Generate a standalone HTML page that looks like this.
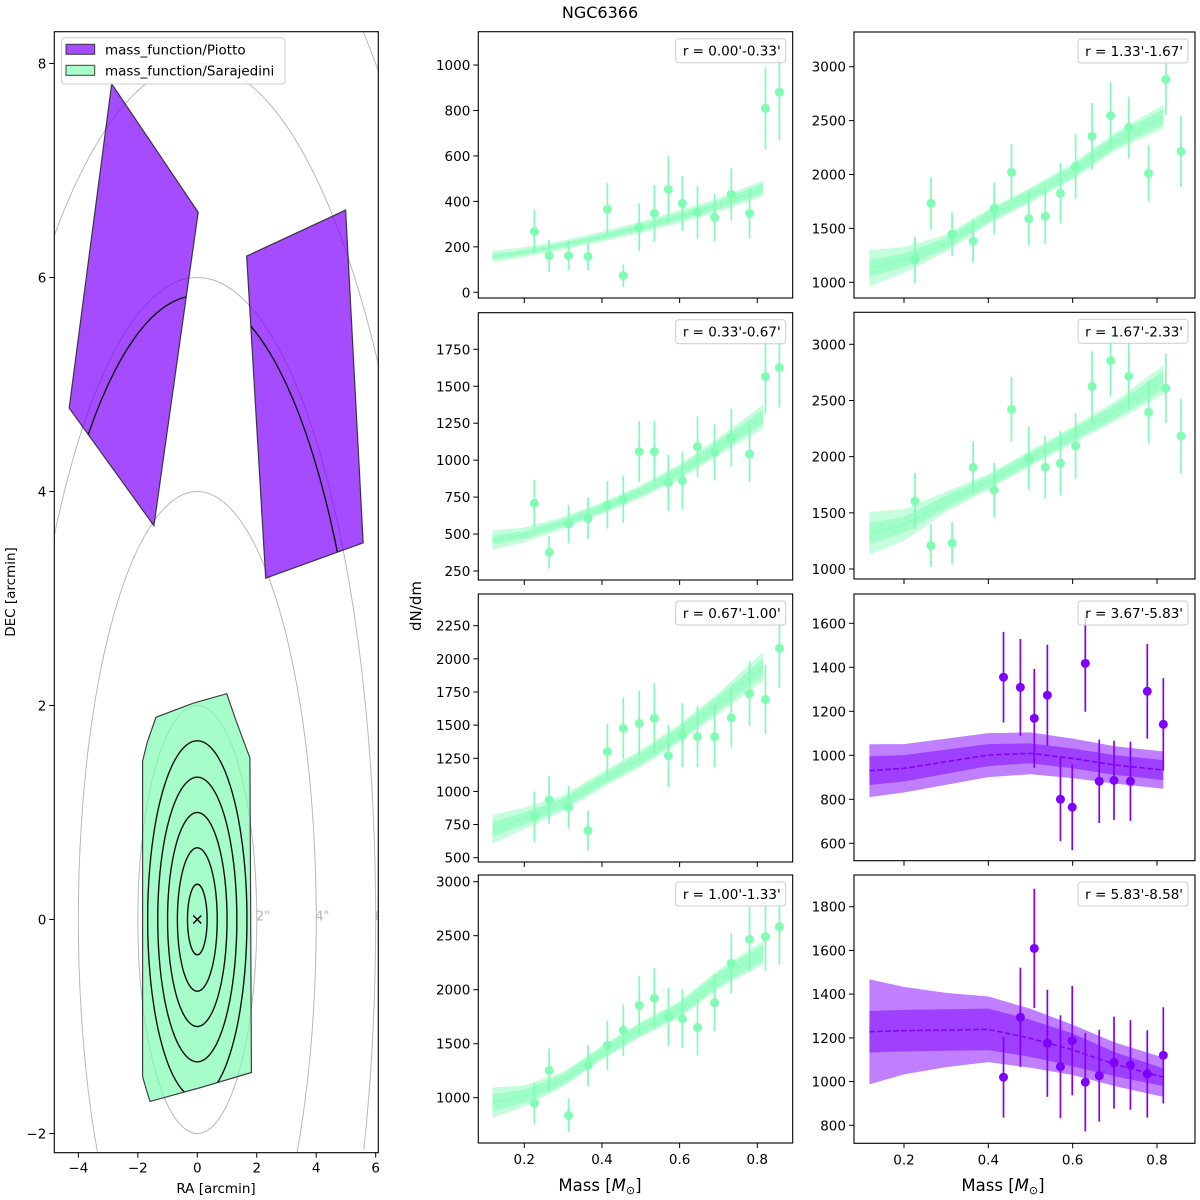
<!DOCTYPE html>
<html><head><meta charset="utf-8"><title>NGC6366</title>
<style>
html,body{margin:0;padding:0;background:#fff;width:1200px;height:1200px;overflow:hidden;}
svg{display:block;font-family:"DejaVu Sans","Liberation Sans",sans-serif;}
</style></head>
<body>
<svg id="fig" width="1200" height="1200" viewBox="0 0 1200 1200" xmlns="http://www.w3.org/2000/svg">
<text x="600" y="18" font-size="16" text-anchor="middle">NGC6366</text>
<text x="421" y="606" font-size="15" text-anchor="middle" transform="rotate(-90 421 606)">dN/dm</text>
<text x="600" y="1191" font-size="16.5" text-anchor="middle">Mass [<tspan font-style="italic">M</tspan><tspan font-size="11" dy="3">⊙</tspan><tspan dy="-3">]</tspan></text>
<text x="1003" y="1191" font-size="16.5" text-anchor="middle">Mass [<tspan font-style="italic">M</tspan><tspan font-size="11" dy="3">⊙</tspan><tspan dy="-3">]</tspan></text>
</svg>
<script>
// ---------- data ----------
const massG = [0.226,0.264,0.314,0.364,0.414,0.455,0.496,0.535,0.571,0.607,0.646,0.69,0.733,0.78,0.821,0.857];
const massP = [0.436,0.476,0.509,0.540,0.571,0.599,0.630,0.663,0.698,0.737,0.777,0.815];
const fitMass = [0.118,0.2,0.3,0.4,0.5,0.6,0.7,0.815];

const p1Vals = [267,161,161,157,365,73,286,347,453,391,352,330,431,347,809,880];
const p1Errs = [95,70,65,60,115,50,105,125,145,120,115,105,115,110,180,210];
const p1Med = [157,176,208,245,286,333,384,457];
const p1In = [12,10,10,12,14,16,18,22];
const p1Out = [25,22,20,22,25,28,30,35];

const p2Vals = [708,376,568,606,697,735,1058,1058,848,861,1091,1053,1152,1042,1565,1626];
const p2Errs = [160,110,130,140,160,160,205,210,190,190,205,190,195,190,250,270];
const p2Med = [460,494,577,674,787,922,1091,1294];
const p2In = [30,25,25,28,30,35,40,45];
const p2Out = [65,50,40,40,45,50,60,80];

const p3Vals = [809,935,880,704,1300,1476,1513,1551,1269,1425,1413,1413,1556,1737,1694,2079];
const p3Errs = [190,180,160,150,210,230,245,265,235,240,230,230,225,245,260,300];
const p3Med = [714,797,910,1086,1249,1438,1664,1941];
const p3In = [55,45,40,40,45,50,55,60];
const p3Out = [110,80,60,60,65,70,80,110];

const p4Vals = [948,1253,836,1299,1485,1623,1855,1920,1747,1731,1651,1880,2244,2466,2491,2583];
const p4Errs = [190,200,155,190,230,240,270,280,270,270,260,260,280,300,320,350];
const p4Med = [954,1015,1170,1417,1633,1818,2096,2343];
const p4In = [80,60,50,50,55,60,65,75];
const p4Out = [140,100,70,65,70,75,90,110];

const r1Vals = [1207,1733,1448,1383,1686,2020,1590,1612,1825,2076,2354,2546,2437,2011,2883,2215];
const r1Errs = [215,240,200,200,240,260,245,255,280,300,310,310,285,260,330,330];
const r1Med = [1130,1207,1362,1609,1810,2026,2304,2536];
const r1In = [80,60,50,50,50,55,60,70];
const r1Out = [170,120,80,70,70,75,85,110];

const r2Vals = [1605,1208,1231,1905,1703,2421,1985,1905,1941,2095,2626,2855,2715,2395,2608,2184];
const r2Errs = [250,190,185,235,240,290,280,280,285,290,310,320,290,280,310,330];
const r2Med = [1318,1392,1599,1777,1985,2193,2401,2682];
const r2In = [90,70,55,50,50,55,60,80];
const r2Out = [190,140,90,70,70,75,90,130];

const r3Vals = [1355,1309,1168,1273,800,764,1418,882,886,882,1291,1141];
const r3Errs = [206,220,225,230,190,195,220,190,180,180,215,210];
const r3Med = [930,941,971,1001,1009,986,956,933];
const r3In = [65,60,55,50,45,45,45,45];
const r3Out = [120,110,105,100,95,90,85,85];

const r4Vals = [1020,1294,1609,1175,1068,1187,997,1027,1087,1076,1035,1120];
const r4Errs = [185,227,273,245,235,250,225,210,210,205,200,220];
const r4Med = [1228,1233,1236,1239,1198,1145,1079,1020];
const r4In = [95,95,95,95,85,75,55,40];
const r4Out = [240,200,170,150,135,115,100,90];

const massTicks = [0.2,0.4,0.6,0.8];
const raTicks = [-4,-2,0,2,4,6];
const decTicks = [-2,0,2,4,6,8];
const ringRadii = [2,4,6,8,10];
const ringLabels = [2,4,6];
const contourRadii = [0.33,0.67,1.0,1.33,1.67];
const outerContour = [5.83];
const greenPoly = [[-1.84,1.48],[-1.68,1.66],[-1.39,1.89],[-0.15,2.02],[0.99,2.11],[1.30,1.86],[1.77,1.51],[1.82,-1.43],[0.12,-1.57],[-1.59,-1.70],[-1.66,-1.64],[-1.84,-1.47]];
const piottoPolyA = [[-2.88,7.81],[0.03,6.61],[-1.46,3.68],[-4.31,4.78]];
const piottoPolyB = [[1.66,6.20],[4.99,6.63],[5.58,3.52],[2.30,3.19]];

// ---------- rendering ----------
const NS = 'http://www.w3.org/2000/svg';
const svg = document.getElementById('fig');
const GREEN = '#80fcb4', PURPLE = '#7f00ff';
function mk(tag, attrs, parent){
  const e = document.createElementNS(NS, tag);
  for (const k in attrs) e.setAttribute(k, attrs[k]);
  (parent||svg).appendChild(e);
  return e;
}
function fmt(v){ return (v<0?'\u2212':'') + Math.abs(v); }

const colMid = {x0:478.3, x1:792.7, a:524.3, b:757.3};
const colRight = {x0:854, x1:1195, a:904, b:1157};
const panels = [
 {id:'p1', col:colMid, y0:31.7, y1:298, cal:[0,292.3,1000,65], ticks:[0,200,400,600,800,1000], vals:p1Vals, errs:p1Errs, med:p1Med, ein:p1In, eout:p1Out, color:GREEN, mass:massG, label:"r = 0.00'-0.33'", xl:false},
 {id:'p2', col:colMid, y0:312.7, y1:580, cal:[250,571,1750,349.3], ticks:[250,500,750,1000,1250,1500,1750], vals:p2Vals, errs:p2Errs, med:p2Med, ein:p2In, eout:p2Out, color:GREEN, mass:massG, label:"r = 0.33'-0.67'", xl:false},
 {id:'p3', col:colMid, y0:594, y1:862, cal:[500,857.7,2250,625.7], ticks:[500,750,1000,1250,1500,1750,2000,2250], vals:p3Vals, errs:p3Errs, med:p3Med, ein:p3In, eout:p3Out, color:GREEN, mass:massG, label:"r = 0.67'-1.00'", xl:false},
 {id:'p4', col:colMid, y0:875, y1:1143, cal:[1000,1097.7,3000,881.7], ticks:[1000,1500,2000,2500,3000], vals:p4Vals, errs:p4Errs, med:p4Med, ein:p4In, eout:p4Out, color:GREEN, mass:massG, label:"r = 1.00'-1.33'", xl:true},
 {id:'r1', col:colRight, y0:32, y1:298, cal:[1000,282.3,3000,66.7], ticks:[1000,1500,2000,2500,3000], vals:r1Vals, errs:r1Errs, med:r1Med, ein:r1In, eout:r1Out, color:GREEN, mass:massG, label:"r = 1.33'-1.67'", xl:false},
 {id:'r2', col:colRight, y0:312.3, y1:579, cal:[1000,569,3000,344.3], ticks:[1000,1500,2000,2500,3000], vals:r2Vals, errs:r2Errs, med:r2Med, ein:r2In, eout:r2Out, color:GREEN, mass:massG, label:"r = 1.67'-2.33'", xl:false},
 {id:'r3', col:colRight, y0:594, y1:860.7, cal:[600,843.3,1600,623.3], ticks:[600,800,1000,1200,1400,1600], vals:r3Vals, errs:r3Errs, med:r3Med, ein:r3In, eout:r3Out, color:PURPLE, mass:massP, label:"r = 3.67'-5.83'", xl:false},
 {id:'r4', col:colRight, y0:875, y1:1143.3, cal:[800,1125.3,1800,906.7], ticks:[800,1000,1200,1400,1600,1800], vals:r4Vals, errs:r4Errs, med:r4Med, ein:r4In, eout:r4Out, color:PURPLE, mass:massP, label:"r = 5.83'-8.58'", xl:true},
];

panels.forEach(P=>{
  const c = P.col;
  const X = m => c.a + (m-0.2)*(c.b-c.a)/0.6;
  const Y = v => P.cal[1] + (v-P.cal[0])*(P.cal[3]-P.cal[1])/(P.cal[2]-P.cal[0]);
  const cy = v => Math.max(P.y0, Math.min(P.y1, Y(v)));
  const g = mk('g', {});
  
  
  const clipId = 'clip-'+P.id;
  const cp = mk('clipPath', {id:clipId}, g);
  mk('rect', {x:c.x0, y:P.y0, width:c.x1-c.x0, height:P.y1-P.y0}, cp);
  const plot = mk('g', {'clip-path':'url(#'+clipId+')'}, g);
  const band = (half, op, name) => {
    let pts = fitMass.map((m,i)=>X(m)+','+cy(P.med[i]+half[i]));
    pts = pts.concat(fitMass.map((m,i)=>X(m)+','+cy(P.med[i]-half[i])).reverse());
    const e = mk('polygon', {points:pts.join(' '), fill:P.color, 'fill-opacity':op, 'stroke-linejoin':'round'}, plot);
    
    
  };
  const isG = P.color===GREEN;
  band(P.eout, isG?0.45:0.5, 'fit-band-outer');
  band(P.ein, isG?0.55:0.5, 'fit-band-inner');
  const ml = mk('polyline', {points:fitMass.map((m,i)=>X(m)+','+Y(P.med[i])).join(' '), fill:'none', stroke:P.color, 'stroke-width':1.5, 'stroke-dasharray':'5.5,2.5', 'stroke-opacity':isG?0.5:1}, plot);
  
  
  P.vals.forEach((v,i)=>{
    const x = X(P.mass[i]);
    const eb = mk('line', {x1:x, x2:x, y1:cy(v-P.errs[i]), y2:cy(v+P.errs[i]), stroke:P.color, 'stroke-width':1.7}, plot);
    
    
    const pt = mk('circle', {cx:x, cy:Y(v), r:4.5, fill:P.color}, plot);
    
    
  });
  mk('rect', {x:c.x0, y:P.y0, width:c.x1-c.x0, height:P.y1-P.y0, fill:'none', stroke:'#000', 'stroke-width':1.1}, g);
  P.ticks.forEach(t=>{
    const y = Y(t);
    mk('line', {x1:c.x0-5, x2:c.x0, y1:y, y2:y, stroke:'#000', 'stroke-width':1}, g);
    const tl = mk('text', {x:c.x0-8, y:y+5, 'font-size':13.5, 'text-anchor':'end'}, g);
    tl.textContent = fmt(t);
    
    
  });
  massTicks.forEach(t=>{
    const x = X(t);
    mk('line', {x1:x, x2:x, y1:P.y1, y2:P.y1+5, stroke:'#000', 'stroke-width':1}, g);
    if (P.xl){
      const tl = mk('text', {x:x, y:P.y1+21, 'font-size':13.5, 'text-anchor':'middle'}, g);
      tl.textContent = t.toFixed(1);
      
      
    }
  });
  const lg = mk('g', {}, g);
  
  
  mk('rect', {x:c.x1-117, y:P.y0+7, width:110, height:24, rx:3, fill:'#fff', 'fill-opacity':0.8, stroke:'#ccc', 'stroke-width':1}, lg);
  const lt = mk('text', {x:c.x1-12, y:P.y0+24, 'font-size':13.5, 'text-anchor':'end'}, lg);
  lt.textContent = P.label;
});

// ---------- left footprint panel ----------
(function(){
  const L = {x0:54.3, x1:378.3, y0:31.7, y1:1152.7};
  const X = v => 197.3 + v*29.73;
  const Y = v => 919.5 - v*107;
  const g = mk('g', {});
  
  
  const cp = mk('clipPath', {id:'clip-left'}, g);
  mk('rect', {x:L.x0, y:L.y0, width:L.x1-L.x0, height:L.y1-L.y0}, cp);
  const plot = mk('g', {'clip-path':'url(#clip-left)'}, g);
  const inside = (x,y) => x>=L.x0-2 && x<=L.x1+2 && y>=L.y0-2 && y<=L.y1+2;
  // draw a sky circle of radius r as polylines restricted to the axes box
  function ring(r, parent, stroke, sw, name){
    let segs = [], cur = [];
    for (let k=0; k<=720; k++){
      const th = k/720*2*Math.PI;
      const px = X(r*Math.cos(th)), py = Y(r*Math.sin(th));
      if (inside(px,py)) cur.push(px.toFixed(1)+','+py.toFixed(1));
      else { if (cur.length>1) segs.push(cur); cur = []; }
    }
    if (cur.length>1) segs.push(cur);
    segs.forEach(s=>{
      const e = mk('polyline', {points:s.join(' '), fill:'none', stroke:stroke, 'stroke-width':sw}, parent);
      
      
    });
  }
  ringRadii.forEach(r=> ring(r, plot, '#b8b8b8', 1, 'radius-ring'));
  ringLabels.forEach(r=>{
    const t = mk('text', {x:X(r)-1, y:Y(0)+1, 'font-size':13, fill:'#b8b8b8'}, plot);
    t.textContent = r + '"';
    
    
  });
  const polyStr = p => p.map(q=>X(q[0])+','+Y(q[1])).join(' ');
  function footprint(poly, fill, name, radii, id){
    const pc = mk('clipPath', {id:id}, g);
    mk('polygon', {points:polyStr(poly)}, pc);
    const e = mk('polygon', {points:polyStr(poly), fill:fill, 'fill-opacity':0.7, stroke:'#222', 'stroke-opacity':0.85, 'stroke-width':1.2}, plot);
    
    
    const cg = mk('g', {'clip-path':'url(#'+id+')'}, plot);
    radii.forEach(r=> ring(r, cg, '#111', 1.4, 'bin-contour'));
  }
  footprint(piottoPolyA, PURPLE, 'piotto-footprint-a', outerContour, 'cpa');
  footprint(piottoPolyB, PURPLE, 'piotto-footprint-b', outerContour, 'cpb');
  footprint(greenPoly, GREEN, 'sarajedini-footprint', contourRadii, 'cpg');
  const cx = X(0), cy = Y(0);
  const cm = mk('path', {d:`M${cx-4},${cy-4}L${cx+4},${cy+4}M${cx-4},${cy+4}L${cx+4},${cy-4}`, stroke:'#000', 'stroke-width':1.4}, plot);
  
  
  mk('rect', {x:L.x0, y:L.y0, width:L.x1-L.x0, height:L.y1-L.y0, fill:'none', stroke:'#000', 'stroke-width':1.1}, g);
  raTicks.forEach(t=>{
    const x = X(t);
    mk('line', {x1:x, x2:x, y1:L.y1, y2:L.y1+5, stroke:'#000'}, g);
    const tl = mk('text', {x:x, y:L.y1+20, 'font-size':13.5, 'text-anchor':'middle'}, g);
    tl.textContent = fmt(t);
    
    
  });
  decTicks.forEach(t=>{
    const y = Y(t);
    mk('line', {x1:L.x0-5, x2:L.x0, y1:y, y2:y, stroke:'#000'}, g);
    const tl = mk('text', {x:L.x0-8, y:y+5, 'font-size':13.5, 'text-anchor':'end'}, g);
    tl.textContent = fmt(t);
    
    
  });
  const xl = mk('text', {x:216, y:1193, 'font-size':13.5, 'text-anchor':'middle'}, g);
  xl.textContent = 'RA [arcmin]';
  
  
  const yl = mk('text', {x:15, y:592, 'font-size':13.5, 'text-anchor':'middle', transform:'rotate(-90 15 592)'}, g);
  yl.textContent = 'DEC [arcmin]';
  
  
  const lg = mk('g', {}, g);
  
  
  mk('rect', {x:61.7, y:37.7, width:223.3, height:46.3, rx:3, fill:'#fff', 'fill-opacity':0.8, stroke:'#ccc'}, lg);
  const items = [['mass_function/Piotto', PURPLE], ['mass_function/Sarajedini', GREEN]];
  items.forEach((it,i)=>{
    const e = mk('g', {}, lg);
    
    
    mk('rect', {x:66, y:44.3+i*21, width:28.7, height:10, fill:it[1], 'fill-opacity':0.7, stroke:'#222', 'stroke-opacity':0.85}, e);
    const t = mk('text', {x:105, y:54.5+i*21, 'font-size':13.5}, e);
    t.textContent = it[0];
  });
})();
</script>
</body></html>
